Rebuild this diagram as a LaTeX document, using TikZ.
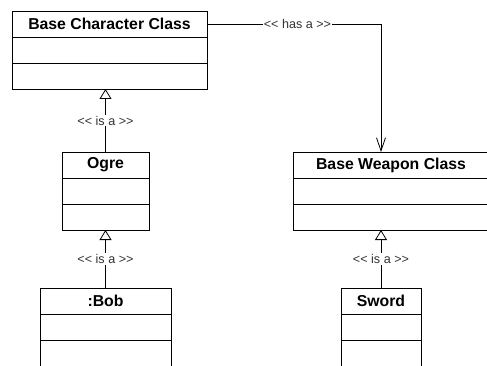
\documentclass[tikz,border=0pt]{standalone}
\usepackage{fontspec}
\newfontfamily\umlfont{Liberation Sans}
\usetikzlibrary{arrows.meta,positioning}

\begin{document}
\begin{tikzpicture}[x=1pt,y=-1pt,
		title/.style={draw,line width=0.9pt,minimum height=26pt,inner sep=0pt,outer sep=0pt,font={\umlfont\bfseries\fontsize{15.8pt}{18pt}\selectfont}},
		part/.style={draw,line width=0.9pt,minimum height=26pt,inner sep=0pt,outer sep=0pt},
		lbl/.style={fill=white,inner sep=1pt,text=black!80,font={\umlfont\fontsize{12.6pt}{14pt}\selectfont}},
		isa/.style={-{Triangle[open,length=10pt,width=12pt]},line width=0.8pt},
		hasa/.style={-{Straight Barb[length=13pt,width=9pt]},line width=0.8pt}]
	
	\useasboundingbox (0,0) rectangle (487,366);
	
	% classes
	\node[title,minimum width=195pt] (bcc) at (109.5,24) {Base Character Class};
	\node[part,minimum width=195pt,below=0pt of bcc] (bcc-a) {};
	\node[part,minimum width=195pt,below=0pt of bcc-a] (bcc-b) {};
	
	\node[title,minimum width=87pt] (ogre) at (105.5,165) {Ogre};
	\node[part,minimum width=87pt,below=0pt of ogre] (ogre-a) {};
	\node[part,minimum width=87pt,below=0pt of ogre-a] (ogre-b) {};
	
	\node[title,minimum width=131pt] (bob) at (105.5,301) {:Bob};
	\node[part,minimum width=131pt,below=0pt of bob] (bob-a) {};
	\node[part,minimum width=131pt,below=0pt of bob-a] (bob-b) {};
	
	\node[title,minimum width=196pt] (bwc) at (391,165) {Base Weapon Class};
	\node[part,minimum width=196pt,below=0pt of bwc] (bwc-a) {};
	\node[part,minimum width=196pt,below=0pt of bwc-a] (bwc-b) {};
	
	\node[title,minimum width=80pt] (sword) at (381,301) {Sword};
	\node[part,minimum width=80pt,below=0pt of sword] (sword-a) {};
	\node[part,minimum width=80pt,below=0pt of sword-a] (sword-b) {};
	
	% relations
	\draw[isa] (ogre.north) -- node[lbl] {<< is a >>} (ogre.north |- bcc-b.south);
	\draw[isa] (bob.north) -- node[lbl] {<< is a >>} (bob.north |- ogre-b.south);
	\draw[isa] (sword.north) -- node[lbl] {<< is a >>} (sword.north |- bwc-b.south);
	
	\coordinate (hasend) at (sword.north |- bwc.north);
	\draw[hasa] (bcc.east) -| node[lbl,pos=0.26] {<< has a >>} (hasend);
	
\end{tikzpicture}
\end{document}
